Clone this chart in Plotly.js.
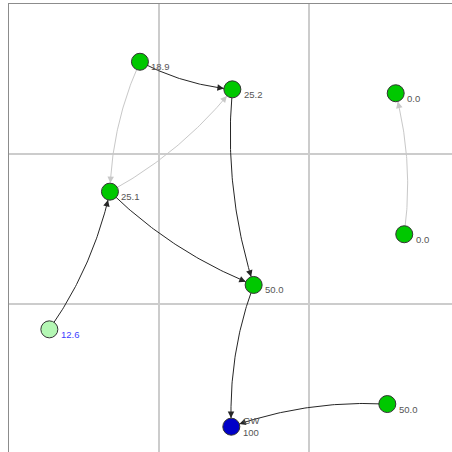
<!DOCTYPE html>
<html>
<head>
<meta charset="utf-8">
<script src="https://cdn.plot.ly/plotly-3.0.1.min.js"></script>
<style>html,body{margin:0;padding:0;background:#fff;}#chart{width:452px;height:452px;}</style>
</head>
<body>
<div id="chart"></div>
<script>
// Node data (grid units)
const nodeLabels = ['18.9', '25.2', '25.1', '50.0', '12.6', 'GW<br>100', '50.0', '0.0', '0.0'];
const nodeX = [0.873, 1.489, 0.673, 1.631, 0.269, 1.482, 2.522, 2.578, 2.635];
const nodeY = [2.615, 2.431, 1.749, 1.127, 0.831, 0.182, 0.333, 2.405, 1.465];
const nodeKinds = ['normal', 'normal', 'normal', 'normal', 'source', 'sink', 'normal', 'normal', 'normal'];

// Edges
const edgeFrom = [0, 0, 2, 1, 2, 4, 3, 6, 8];
const edgeTo   = [1, 2, 1, 3, 3, 2, 5, 5, 7];
const edgeKind = ['strong', 'weak', 'weak', 'strong', 'strong', 'strong', 'strong', 'strong', 'weak'];

const kindFill = {normal: '#00c800', source: '#b4f7b4', sink: '#0000c8'};
const kindLabel = {normal: '#555555', source: '#3c3cff', sink: '#555555'};
const edgeColor = {strong: '#262626', weak: '#c8c8c8'};

const PX = 150;           // pixels per grid unit
const R = 8.5 / PX;       // node radius in data units
const BEND = 0.1;         // control-point offset relative to edge length

function bez(p0, c, p2, t) {
  const u = 1 - t;
  return [u*u*p0[0] + 2*u*t*c[0] + t*t*p2[0], u*u*p0[1] + 2*u*t*c[1] + t*t*p2[1]];
}

const traces = [];
const annotations = [];

for (let i = 0; i < edgeFrom.length; i++) {
  const a = [nodeX[edgeFrom[i]], nodeY[edgeFrom[i]]];
  const b = [nodeX[edgeTo[i]], nodeY[edgeTo[i]]];
  const dx = b[0] - a[0], dy = b[1] - a[1];
  const c = [(a[0] + b[0]) / 2 + BEND * dy, (a[1] + b[1]) / 2 - BEND * dx];
  let tTip = 1;
  for (let t = 1; t > 0; t -= 0.001) {
    const p = bez(a, c, b, t);
    if (Math.hypot(p[0] - b[0], p[1] - b[1]) >= R) { tTip = t; break; }
  }
  const xs = [], ys = [];
  const N = 60;
  for (let k = 0; k <= N; k++) {
    const p = bez(a, c, b, tTip * k / N);
    xs.push(p[0]); ys.push(p[1]);
  }
  const col = edgeColor[edgeKind[i]];
  traces.push({x: xs, y: ys, mode: 'lines', line: {color: col, width: 1}, hoverinfo: 'skip', showlegend: false});
  const tip = bez(a, c, b, tTip);
  let tBack = tTip;
  for (let t = tTip; t > 0; t -= 0.001) {
    const p = bez(a, c, b, t);
    if (Math.hypot(p[0] - tip[0], p[1] - tip[1]) >= 6 / PX) { tBack = t; break; }
  }
  const back = bez(a, c, b, tBack);
  annotations.push({
    x: tip[0], y: tip[1], ax: back[0], ay: back[1], xref: 'x', yref: 'y', axref: 'x', ayref: 'y',
    text: '', showarrow: true, arrowhead: 2, arrowsize: 1.3, arrowwidth: 1, arrowcolor: col
  });
}

traces.push({
  x: nodeX, y: nodeY, mode: 'markers', hoverinfo: 'skip', showlegend: false,
  marker: {size: 17, color: nodeKinds.map(k => kindFill[k]), line: {color: '#333333', width: 1}}
});

for (let i = 0; i < nodeLabels.length; i++) {
  const multi = nodeLabels[i].indexOf('<br>') >= 0;
  annotations.push({
    x: nodeX[i], y: nodeY[i], xref: 'x', yref: 'y', text: nodeLabels[i], showarrow: false,
    xanchor: 'left', yanchor: 'middle', align: 'left', xshift: 9.5, yshift: multi ? 0 : -5,
    font: {family: 'Liberation Sans, Arial, sans-serif', size: 9.5, color: kindLabel[nodeKinds[i]]}
  });
}

const layout = {
  width: 452, height: 452,
  margin: {l: 9, r: 0, t: 4, b: 0},
  paper_bgcolor: '#ffffff', plot_bgcolor: '#ffffff',
  showlegend: false,
  xaxis: {range: [0, 443 / PX], dtick: 1, tick0: 0, showticklabels: false, ticks: '',
          showgrid: true, gridcolor: '#cccccc', gridwidth: 1.5, zeroline: false,
          showline: true, side: 'top', linecolor: '#8c8c8c', linewidth: 1, fixedrange: true},
  yaxis: {range: [2 / PX, 3], dtick: 1, tick0: 0, showticklabels: false, ticks: '',
          showgrid: true, gridcolor: '#cccccc', gridwidth: 1.5, zeroline: false,
          showline: true, linecolor: '#8c8c8c', linewidth: 1.5, fixedrange: true},
  annotations: annotations
};

Plotly.newPlot('chart', traces, layout, {staticPlot: true, displayModeBar: false});
</script>
</body>
</html>
